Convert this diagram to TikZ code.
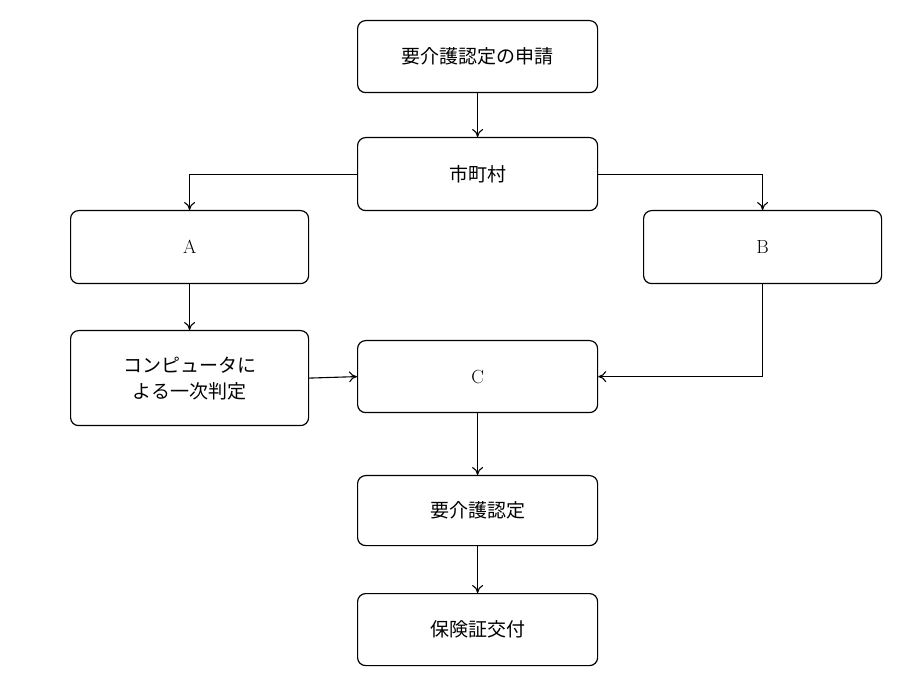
\documentclass[tikz,border=0pt]{standalone}
\usepackage{fontspec}
\newfontfamily\cjk{Noto Sans CJK JP}
\usetikzlibrary{arrows.meta}
\begin{document}
\begin{tikzpicture}[x=1pt,y=-1pt,
  box/.style={draw,line width=1.2pt,rounded corners=8pt,minimum width=240pt,minimum height=72pt,font=\fontsize{19}{26}\selectfont\cjk,align=center,anchor=north west,inner sep=0pt},
  arr/.style={line width=1.1pt,-{To[length=8pt,width=11pt]}}]
\useasboundingbox (0,0) rectangle (900,684);
\node[box] (req) at (357,20) {要介護認定の申請};
\node[box,minimum height=73pt] (city) at (357,137) {市町村};
\node[box,minimum width=238pt,minimum height=73pt,font=\fontsize{19}{26}\selectfont] (A) at (70,210) {A};
\node[box,minimum width=238pt,minimum height=73pt,font=\fontsize{19}{26}\selectfont] (B) at (643,210) {B};
\node[box,minimum width=238pt,minimum height=95pt] (comp) at (70,330) {コンピュータに\\よる一次判定};
\node[box,font=\fontsize{19}{26}\selectfont] (C) at (357,340) {C};
\node[box,minimum height=70pt] (cert) at (357,475) {要介護認定};
\node[box] (card) at (357,593) {保険証交付};
\draw[arr] (req.south) -- (city.north);
\draw[arr] (city.west) -| (A.north);
\draw[arr] (city.east) -| (B.north);
\draw[arr] (A.south) -- (comp.north);
\draw[arr] (comp.east) -- (C.west);
\draw[arr] (B.south) |- (C.east);
\draw[arr] (C.south) -- (cert.north);
\draw[arr] (cert.south) -- (card.north);
\end{tikzpicture}
\end{document}
